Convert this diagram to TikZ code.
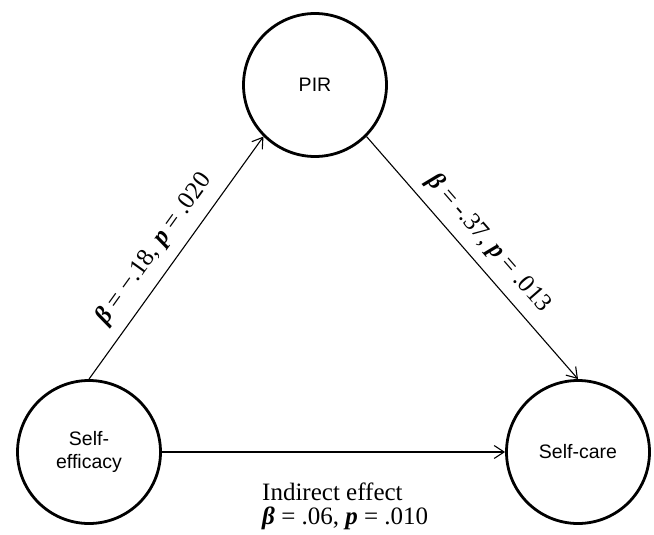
\documentclass[tikz,border=0pt]{standalone}
\usepackage{fontspec}
\setmainfont{Liberation Serif}
\newfontfamily\sansf{Liberation Sans}
\usetikzlibrary{arrows.meta}
\newcommand{\bt}{{\bfseries\itshape β}}
\newcommand{\pp}{{\bfseries\itshape p}}
\begin{document}
\begin{tikzpicture}[x=1pt,y=-1pt]
\tikzset{
  var/.style={circle, draw, line width=2.8pt, minimum size=143pt, inner sep=0pt,
    font=\sansf\fontsize{19.5}{23}\selectfont, align=center},
  conn/.style={line width=1.1pt, -{Straight Barb[length=10pt,width=13pt,line width=1.1pt]}},
  lab/.style={font=\fontsize{25}{25}\selectfont, inner sep=0pt}
}
\useasboundingbox (0,0) rectangle (654,535);
\node[var] (pir) at (315,85) {PIR};
\node[var] (se) at (89,452) {Self-\\efficacy};
\node[var] (sc) at (578,452) {Self-care};
\draw[conn] (se.north) -- node[lab, sloped, above=11pt, pos=0.48] {\bt{} = −.18, \pp{} = .020} (pir.225);
\draw[conn] (pir.-45) -- node[lab, sloped, above=10pt, pos=0.5] {\bt{} = -.37, \pp{} = .013} (sc.north);
\draw[conn] (se.east) -- (sc.west);
\node[lab, anchor=base west] (ie) at (262,500) {Indirect effect};
\node[lab, anchor=base west] (ib) at (262,524) {\bt{} = .06, \pp{} = .010};
\end{tikzpicture}
\end{document}
